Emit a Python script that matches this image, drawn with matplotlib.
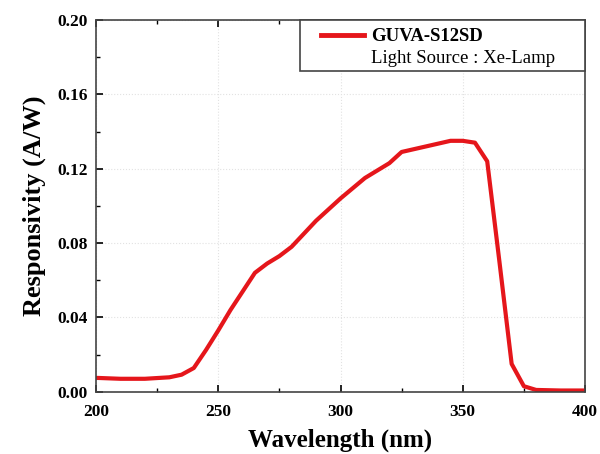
import numpy as np
import matplotlib
matplotlib.use("Agg")
import matplotlib.pyplot as plt
from matplotlib.lines import Line2D
from matplotlib.patches import Rectangle
from matplotlib.ticker import MultipleLocator

plt.rcParams["font.family"] = ["Liberation Serif", "DejaVu Serif"]

# spectral responsivity
wavelength = [200, 210, 220, 230, 235, 240, 245, 250, 255, 260, 265, 270, 275,
              280, 285, 290, 300, 310, 320, 325, 335, 340, 345, 350, 355,
              360, 365, 370, 375, 380, 390, 400]
resp = [0.0075, 0.007, 0.007, 0.0078, 0.0092, 0.0128, 0.0225, 0.033, 0.044,
        0.054, 0.064, 0.069, 0.073, 0.078, 0.085, 0.092, 0.104, 0.115, 0.123,
        0.129, 0.132, 0.1335, 0.135, 0.135, 0.134, 0.124, 0.070, 0.015,
        0.003, 0.001, 0.0007, 0.0007]
labels = ["GUVA-S12SD", "Light Source : Xe-Lamp"]
red = "#e5161b"

fig = plt.figure(figsize=(6, 4.54), dpi=100)
ax = fig.add_axes([0.16, 0.137, 0.815, 0.819])

ax.plot(wavelength, resp, color=red, lw=3)

ax.set_xlim(200, 400); ax.set_ylim(0, 0.20)
ax.xaxis.set_major_locator(MultipleLocator(50)); ax.xaxis.set_minor_locator(MultipleLocator(25))
ax.yaxis.set_major_locator(MultipleLocator(0.04)); ax.yaxis.set_minor_locator(MultipleLocator(0.02))
ax.tick_params(which="both", direction="in", top=True, right=False, labelsize=12.5)
ax.tick_params(axis="x", pad=9)
ax.tick_params(axis="y", pad=6)
ax.tick_params(which="major", length=5, width=1.2)
ax.tick_params(which="minor", length=3, width=1)
ax.set_yticks(np.arange(0, 0.201, 0.04))
ax.set_yticklabels([f"{v:.2f}" for v in np.arange(0, 0.201, 0.04)])
for lab in ax.get_xticklabels() + ax.get_yticklabels():
    lab.set_fontweight("bold")
for s in ax.spines.values():
    s.set_linewidth(1.2); s.set_color("#444444")
ax.grid(which="major", color="#e2e2e2", ls=":", lw=0.8)

ax.set_xlabel("Wavelength (nm)", fontsize=18, fontweight="bold", labelpad=6)
ax.set_ylabel("Responsivity (A/W)", fontsize=19, fontweight="bold", labelpad=8)

# legend box pinned to top-right corner
ax.add_patch(Rectangle((0.417, 0.863), 0.583, 0.137, transform=ax.transAxes,
                       fill=True, facecolor="white", edgecolor="#444444", lw=1.2,
                       zorder=4, clip_on=False))
handles = [Line2D([], [], color=red, lw=3.5), Line2D([], [], color="none")]
leg = ax.legend(handles, labels, loc="upper left", bbox_to_anchor=(0.44, 1.003),
                frameon=False, borderpad=0, fontsize=13.5, handlelength=2.3,
                handletextpad=0.4, labelspacing=0.25)
leg.set_zorder(5)
leg.get_texts()[0].set_fontweight("bold")

fig.savefig("out.png", dpi=100)
